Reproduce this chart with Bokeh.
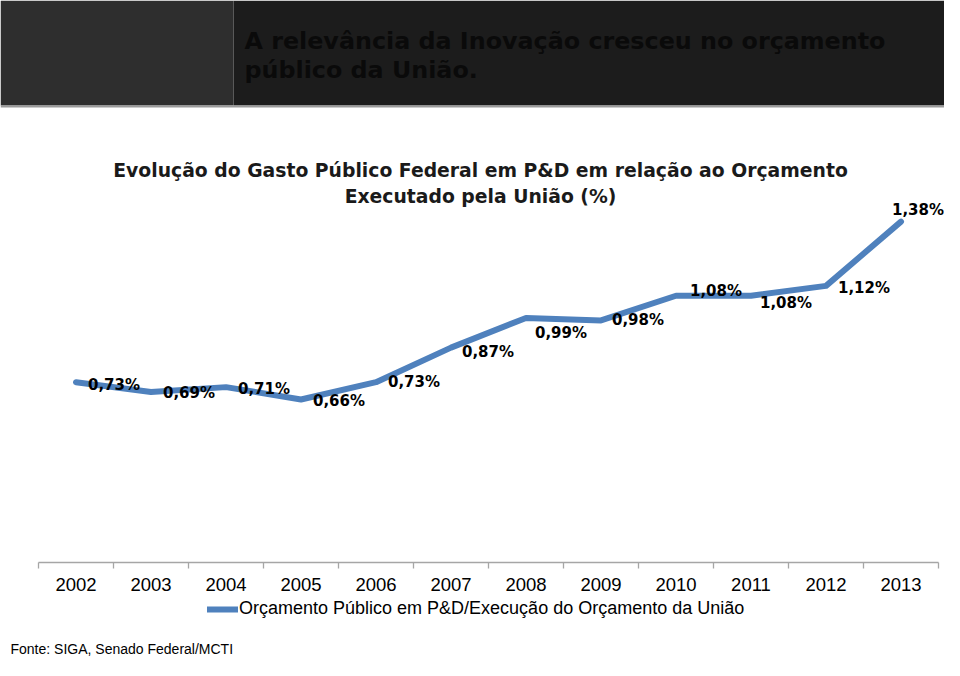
from bokeh.plotting import figure
from bokeh.models import (Range1d, LinearAxis, FixedTicker, ColumnDataSource, LabelSet,
                          Label, BoxAnnotation, Legend, LegendItem)
from bokeh.core.properties import value
from bokeh.embed import file_html
from bokeh.resources import INLINE

# ---------------- data ----------------
years = ["2002", "2003", "2004", "2005", "2006", "2007",
         "2008", "2009", "2010", "2011", "2012", "2013"]
values = [0.73, 0.69, 0.71, 0.66, 0.73, 0.87, 0.99, 0.98, 1.08, 1.08, 1.12, 1.38]
value_labels = ["0,73%", "0,69%", "0,71%", "0,66%", "0,73%", "0,87%",
                "0,99%", "0,98%", "1,08%", "1,08%", "1,12%", "1,38%"]
series_name = "Orçamento Público em P&D/Execução do Orçamento da União"
header_lines = ["A relevância da Inovação cresceu no orçamento", "público da União."]
title_lines = ["Evolução do Gasto Público Federal em P&D em relação ao Orçamento",
               "Executado pela União (%)"]
source_note = "Fonte: SIGA, Senado Federal/MCTI"

# ---------------- styles ----------------
label_dx = [38, 38, 38, 38, 38, 37, 35, 37, 40, 35, 38, 17]
label_dy = [-3, -1, -2, -2, 0, -4, -15, 0, 5, -7, -2, 12]
LINE_BLUE = "#4f81bd"
BOLD_FONT = "DejaVu Sans"
REG_FONT = "Liberation Sans"

W, H = 944, 660
AXIS_Y = 562          # pixel row of the category axis
PX_PER_UNIT = 247.0   # pixels per 1 percentage point
CAT_W = 75.0          # pixels per category
AXIS_X0 = 38          # pixel column of the axis start

n = len(years)
centers = [i + 0.5 for i in range(n)]

p = figure(width=W, height=H, output_backend="svg", toolbar_location=None,
           x_range=Range1d(-AXIS_X0 / CAT_W, (W - AXIS_X0) / CAT_W),
           y_range=Range1d(-(H - AXIS_Y) / PX_PER_UNIT, AXIS_Y / PX_PER_UNIT),
           x_axis_location=None, y_axis_location=None, min_border=0)
p.outline_line_color = None
p.background_fill_color = "white"
p.border_fill_color = "white"
p.grid.visible = False

# layout ranges in canvas pixels (origin top-left)
p.extra_x_ranges = {"px": Range1d(0, W)}
p.extra_y_ranges = {"px": Range1d(H, 0)}

# header band
p.add_layout(BoxAnnotation(left=0, right=233, top=0, bottom=105, x_range_name="px", y_range_name="px",
                           fill_color="#2e2e2e", fill_alpha=1, line_color=None))
p.add_layout(BoxAnnotation(left=233, right=W, top=0, bottom=105, x_range_name="px", y_range_name="px",
                           fill_color="#1c1c1c", fill_alpha=1, line_color=None))
p.add_layout(BoxAnnotation(left=0, right=W, top=105, bottom=107, x_range_name="px", y_range_name="px",
                           fill_color="#9a9a9a", fill_alpha=1, line_color=None))
for txt, yb in zip(header_lines, [40, 69]):
    p.add_layout(Label(x=244, y=yb, text=txt, x_range_name="px", y_range_name="px",
                       text_font=BOLD_FONT, text_font_style="bold", text_font_size="23.8px",
                       text_color="#0a0a0a", text_align="left", text_baseline="alphabetic"))

# chart title
for txt, yb in zip(title_lines, [170, 196]):
    p.add_layout(Label(x=480, y=yb, text=txt, x_range_name="px", y_range_name="px",
                       text_font=BOLD_FONT, text_font_style="bold", text_font_size="18.8px",
                       text_color="#1a1a1a", text_align="center", text_baseline="alphabetic"))

# series
src = ColumnDataSource(dict(x=centers, y=values, label=value_labels, dx=label_dx, dy=label_dy))
r = p.line("x", "y", source=src, line_width=6, line_color=LINE_BLUE,
           line_cap="round", line_join="round")

p.add_layout(LabelSet(x="x", y="y", text="label", x_offset="dx", y_offset="dy", source=src,
                      text_align="center", text_baseline="middle",
                      text_font=value(BOLD_FONT), text_font_style="bold",
                      text_font_size="15px", text_color="#000000"))

# category axis (labels at centers, ticks at category boundaries)
xaxis = LinearAxis(ticker=FixedTicker(ticks=centers, minor_ticks=list(range(n + 1))),
                   major_label_overrides={c: y for c, y in zip(centers, years)},
                   fixed_location=0, bounds=(0, n),
                   major_tick_in=0, major_tick_out=0, minor_tick_in=0, minor_tick_out=6,
                   axis_line_color="#a6a6a6", axis_line_width=1.3,
                   minor_tick_line_color="#a6a6a6", minor_tick_line_width=1.3,
                   major_label_standoff=9, major_label_text_font=REG_FONT,
                   major_label_text_font_size="18.5px", major_label_text_color="#000000")
p.add_layout(xaxis, "below")

# legend
legend = Legend(items=[LegendItem(label=series_name, renderers=[r])], location=(207, H - 619),
                orientation="horizontal", border_line_color=None, background_fill_alpha=0,
                padding=0, margin=0, glyph_width=31, glyph_height=20, label_height=20,
                label_standoff=1, label_text_font=REG_FONT, label_text_font_size="18px",
                label_text_color="#000000")
p.add_layout(legend)

# source note
p.add_layout(Label(x=10, y=648, text=source_note, x_range_name="px", y_range_name="px",
                   text_font=REG_FONT, text_font_size="14px", text_color="#000000",
                   text_align="left", text_baseline="alphabetic"))

open("out.html", "w").write(file_html(p, INLINE))
